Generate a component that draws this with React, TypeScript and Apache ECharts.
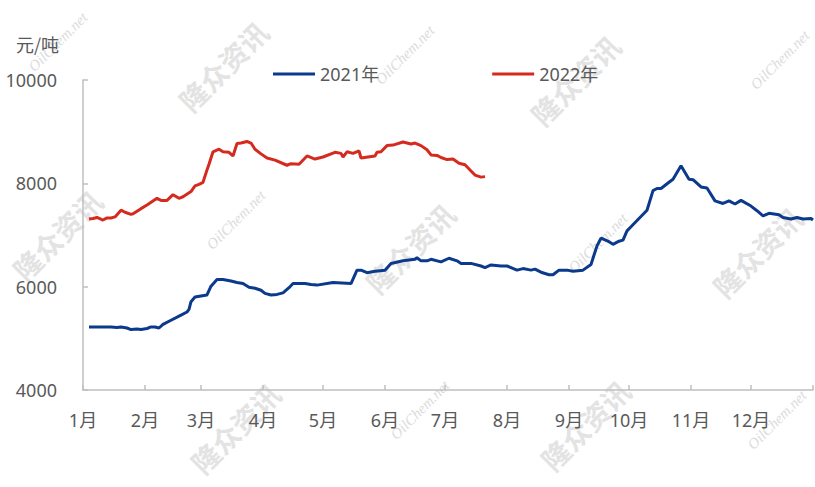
import React, { useEffect, useRef } from "react";
import * as echarts from "echarts";

const monthLabels = ["1月", "2月", "3月", "4月", "5月", "6月", "7月", "8月", "9月", "10月", "11月", "12月"];
const monthStarts = [0, 31, 59, 90, 120, 151, 181, 212, 243, 273, 304, 334];
const yTicks = [4000, 6000, 8000, 10000];
const seriesNames = ["2021年", "2022年"];

const days2021 = [3, 5, 14, 17, 19, 22, 24, 27, 29, 32, 34, 36, 38, 40, 44, 49, 52, 53, 54, 56, 59, 62, 64, 67, 70, 74, 77, 80, 83, 86, 89, 91, 94, 97, 100, 103, 105, 111, 114, 117, 125, 134, 137, 139, 142, 146, 151, 154, 160, 166, 167, 169, 172, 174, 179, 183, 187, 189, 194, 199, 201, 204, 209, 212, 217, 220, 224, 226, 229, 233, 235, 238, 242, 245, 250, 254, 257, 259, 263, 265, 268, 270, 272, 274, 282, 285, 287, 289, 293, 295, 299, 303, 305, 309, 312, 316, 320, 323, 326, 329, 334, 337, 340, 343, 348, 350, 354, 357, 360, 364, 365];
const values2021 = [5220, 5220, 5220, 5210, 5220, 5200, 5170, 5180, 5170, 5190, 5220, 5220, 5200, 5270, 5350, 5450, 5510, 5560, 5710, 5800, 5820, 5840, 6010, 6140, 6140, 6110, 6080, 6060, 5990, 5970, 5930, 5870, 5840, 5850, 5880, 5980, 6060, 6060, 6040, 6030, 6080, 6060, 6320, 6320, 6270, 6300, 6320, 6450, 6500, 6530, 6560, 6500, 6500, 6530, 6480, 6550, 6500, 6450, 6450, 6400, 6370, 6420, 6400, 6400, 6320, 6350, 6320, 6340, 6280, 6230, 6230, 6320, 6320, 6300, 6320, 6430, 6790, 6940, 6870, 6820, 6880, 6900, 7080, 7160, 7480, 7860, 7900, 7900, 8020, 8080, 8340, 8080, 8070, 7930, 7910, 7660, 7610, 7660, 7600, 7670, 7560, 7470, 7370, 7420, 7390, 7340, 7310, 7340, 7310, 7320, 7290];

const days2022 = [3, 5, 7, 10, 12, 14, 16, 19, 21, 24, 25, 29, 32, 37, 39, 42, 45, 48, 50, 54, 56, 58, 60, 62, 63, 65, 68, 70, 73, 75, 77, 79, 82, 84, 86, 89, 92, 96, 102, 104, 108, 112, 116, 120, 126, 129, 130, 132, 135, 138, 139, 146, 147, 149, 152, 155, 160, 164, 166, 169, 172, 174, 177, 179, 182, 185, 188, 191, 194, 196, 199, 201];
const values2022 = [7310, 7320, 7340, 7290, 7330, 7330, 7350, 7480, 7440, 7400, 7410, 7510, 7580, 7710, 7670, 7670, 7780, 7710, 7740, 7840, 7950, 7980, 8020, 8260, 8370, 8610, 8660, 8610, 8600, 8530, 8770, 8780, 8810, 8780, 8660, 8570, 8490, 8450, 8350, 8380, 8370, 8530, 8470, 8510, 8600, 8580, 8510, 8610, 8580, 8630, 8490, 8530, 8600, 8610, 8730, 8740, 8800, 8760, 8780, 8730, 8650, 8550, 8540, 8500, 8460, 8470, 8390, 8360, 8240, 8160, 8120, 8130];

const FONT = '"Noto Sans", "Noto Sans CJK SC", sans-serif';
const LABEL_COLOR = "#595959";
const AXIS_COLOR = "#bfbfbf";

const wmCn: [number, number][] = [[223, 66], [575, 80], [57, 235], [410, 248], [757, 252], [235, 428], [585, 425]];
const wmEn: [number, number][] = [[58, 42], [405, 55], [780, 60], [236, 220], [598, 243], [420, 410], [777, 420]];

export default function App() {
  const ref = useRef<HTMLDivElement>(null);
  useEffect(() => {
    if (!ref.current) return;
    const chart = echarts.init(ref.current, undefined, { renderer: "svg" });
    const graphics: any[] = [];
    wmCn.forEach(([x, y]) =>
      graphics.push({
        type: "text", x, y, rotation: Math.PI / 4, z: 0,
        style: { text: "隆众资讯", fill: "#e3e3e3", font: 'bold 28px "Noto Sans CJK SC"', textAlign: "center", textVerticalAlign: "middle" },
      })
    );
    wmEn.forEach(([x, y]) =>
      graphics.push({
        type: "text", x, y, rotation: Math.PI / 4, z: 0,
        style: { text: "OilChem.net", fill: "#dcdcdc", font: 'italic 15px "Liberation Serif", serif', textAlign: "center", textVerticalAlign: "middle" },
      })
    );
    graphics.push({
      type: "text", x: 59, y: 44, z: 5,
      style: { text: "元/吨", fill: LABEL_COLOR, font: '18px "Noto Sans CJK SC"', textAlign: "right", textVerticalAlign: "middle" },
    });
    chart.setOption({
      animation: false,
      textStyle: { fontFamily: FONT },
      grid: { left: 83, right: 2, top: 80, bottom: 97, containLabel: false },
      legend: {
        data: seriesNames,
        left: 273,
        top: 65,
        padding: 0,
        itemGap: 113,
        itemWidth: 42,
        itemHeight: 3,
        icon: "rect",
        textStyle: { fontSize: 18, color: LABEL_COLOR, fontFamily: FONT },
      },
      graphic: graphics,
      xAxis: {
        type: "value",
        min: 0,
        max: 365,
        axisLine: { lineStyle: { color: AXIS_COLOR, width: 1.5 } },
        axisTick: { inside: true, length: 5, lineStyle: { color: AXIS_COLOR, width: 1.5 }, customValues: [...monthStarts, 365] },
        axisLabel: {
          customValues: monthStarts,
          formatter: (v: number) => monthLabels[monthStarts.indexOf(Math.round(v))] ?? "",
          color: LABEL_COLOR,
          fontSize: 18,
          margin: 21,
          fontFamily: FONT,
        },
        splitLine: { show: false },
      },
      yAxis: {
        type: "value",
        min: yTicks[0],
        max: yTicks[yTicks.length - 1],
        interval: 2000,
        axisLine: { show: true, lineStyle: { color: AXIS_COLOR, width: 1.5 } },
        axisTick: { show: true, inside: true, length: 5, lineStyle: { color: AXIS_COLOR, width: 1.5 } },
        axisLabel: { color: LABEL_COLOR, fontSize: 18, margin: 26, fontFamily: FONT, formatter: (v: number) => String(v) },
        splitLine: { show: false },
      },
      series: [
        {
          name: seriesNames[0],
          type: "line",
          data: days2021.map((d, i) => [d, values2021[i]]),
          showSymbol: false,
          symbol: "none",
          lineStyle: { color: "#0b3a8c", width: 3 },
          itemStyle: { color: "#0b3a8c" },
          z: 3,
        },
        {
          name: seriesNames[1],
          type: "line",
          data: days2022.map((d, i) => [d, values2022[i]]),
          showSymbol: false,
          symbol: "none",
          lineStyle: { color: "#d52b1e", width: 3 },
          itemStyle: { color: "#d52b1e" },
          z: 3,
        },
      ],
    });
    return () => chart.dispose();
  }, []);
  return <div ref={ref} style={{ position: "absolute", left: 0, top: 0, width: 815, height: 487 }} />;
}
